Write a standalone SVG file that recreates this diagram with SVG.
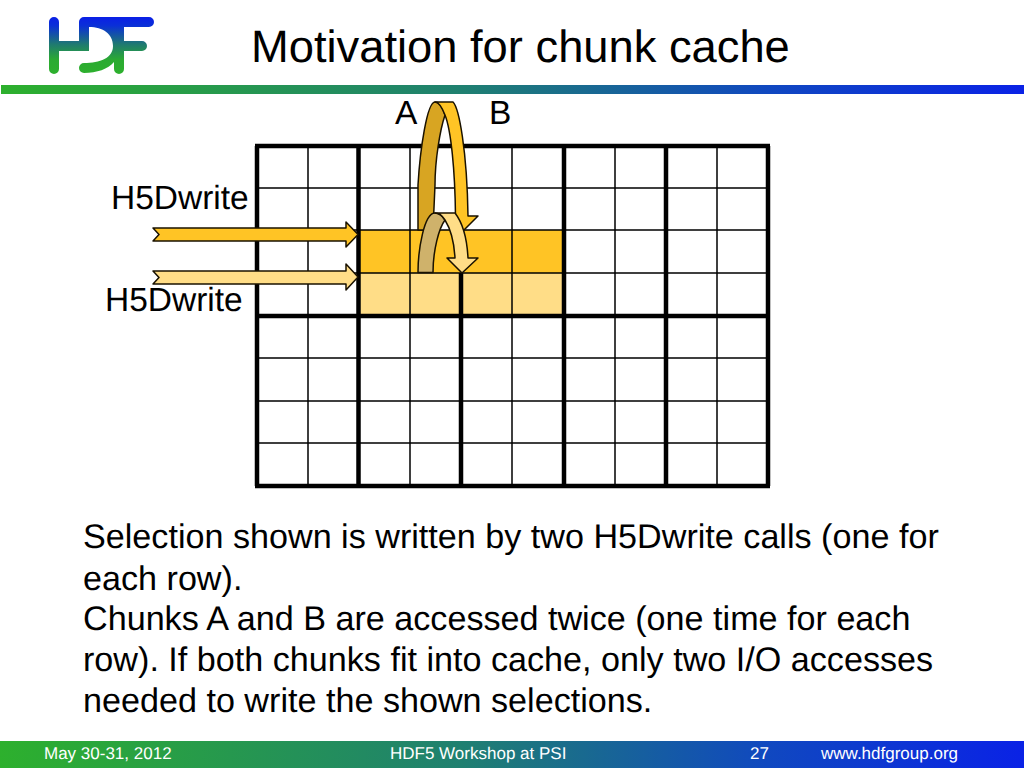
<svg xmlns="http://www.w3.org/2000/svg" width="1024" height="768" viewBox="0 0 1024 768">
<style>
text{font-family:"Liberation Sans",Arial,sans-serif;fill:#000;text-rendering:geometricPrecision}
.title{font-size:45.300px}
.body{font-size:34.150px}
.lab{font-size:33.500px}
.foot{font-size:17px;fill:#fff}
.thick{stroke:#000;stroke-width:4.500;fill:none}
.thin{stroke:#000;stroke-width:1.500;fill:none}
.ol{stroke:#1a1200;stroke-width:1.500;stroke-linejoin:round}
</style>
<defs>
<linearGradient id="bar" x1="0" x2="1" y1="0" y2="0"><stop offset="0" stop-color="#2DB02D"/><stop offset=".45" stop-color="#1F8070"/><stop offset=".75" stop-color="#1048C0"/><stop offset="1" stop-color="#0A22E6"/></linearGradient>
<linearGradient id="lg" gradientUnits="userSpaceOnUse" x1="0" x2="0" y1="17" y2="74"><stop offset="0" stop-color="#0A1FE6"/><stop offset=".15" stop-color="#0A2FD8"/><stop offset=".48" stop-color="#1F7A70"/><stop offset=".75" stop-color="#2BAA32"/><stop offset="1" stop-color="#2DB02D"/></linearGradient>
</defs>
<rect width="1024" height="768" fill="#fff"/>
<g id="logo" fill="url(#lg)">
<path d="M49,22a5,5 0 0 1 10,0V41H79V22a5,5 0 0 1 5,-5H149a5,5 0 0 1 0,10H124V41H142a5,5 0 0 1 0,10H124V69a5,5 0 0 1 -10,0V62C108,69 97,73 84,73a5,5 0 0 1 0,-10C100,63 113,58 113,46C113,34 103,27 89,27V51H59V69a5,5 0 0 1 -10,0Z"/>
</g>
<rect id="top-bar" x="1" y="85" width="1023" height="9" fill="url(#bar)"/>
<text class="title" x="251" y="62">Motivation for chunk cache</text>
<g id="selection">
<rect x="360" y="230" width="203" height="43" fill="#FFC425"/>
<rect x="360" y="273" width="203" height="42" fill="#FFDD87"/>
</g>
<g id="grid">
<path class="thin" d="M308,146V486M410,146V486M512,146V486M615,146V486M717,146V486M257,188H768M257,230H768M257,273H768M257,358H768M257,401H768M257,443H768"/>
<path class="thick" d="M257,146V486M358.500,146V486M461,146V230M461,273V486M564,146V486M666,146V486M768,146V486M255,146H770M255,316H770M255,486H770"/>
</g>
<g id="connectors">
<path id="big-back" class="ol" fill="#D8A522" d="M418,230V185C420,150 427,102 435,102C438,102 441,103 445,115C440,130 435,160 435,185L433,230Z"/>
<path id="big-front" class="ol" fill="#FFC425" d="M435,102H453C459,108 467,150 468,216H478L463,231L448,216H455.500C455,170 451,130 445,115C441,105 438,102 435,102Z"/>
<path id="small-back" class="ol" fill="#CFB26B" d="M418,272.500C418,250 424,213 435,213C438,213 442,215 445,220C439,228 433,250 433,272.500Z"/>
<path id="small-front" class="ol" fill="#FFDD87" d="M435,213H455C462,222 467,238 468,258H478L462,273L447,258H455C454,240 450,228 445,220C442,215 438,213 435,213Z"/>
<path id="write-1" class="ol" fill="#FFC425" d="M153,228H346V222L358,234.500L346,247V241H153L159,234.500Z"/>
<path id="write-2" class="ol" fill="#FFDD87" d="M153,271H346V264L358,277L346,290V284H153L159,277.500Z"/>
</g>
<g id="labels">
<text class="lab" x="395" y="124">A</text>
<text class="lab" x="489" y="124">B</text>
<text class="lab" x="111" y="209">H5Dwrite</text>
<text class="lab" x="105" y="311">H5Dwrite</text>
</g>
<g id="description">
<text class="body" x="83" y="548">Selection shown is written by two H5Dwrite calls (one for</text>
<text class="body" x="83" y="590">each row).</text>
<text class="body" x="83" y="630">Chunks A and B are accessed twice (one time for each</text>
<text class="body" x="83" y="671">row). If both chunks fit into cache, only two I/O accesses</text>
<text class="body" x="83" y="712">needed to write the shown selections.</text>
</g>
<rect id="footer-bar" x="0" y="741" width="1024" height="27" fill="url(#bar)"/>
<g id="footer">
<text class="foot" x="44" y="759">May 30-31, 2012</text>
<text class="foot" x="390" y="759">HDF5 Workshop at PSI</text>
<text class="foot" x="750" y="759">27</text>
<text class="foot" x="821" y="759">www.hdfgroup.org</text>
</g>
</svg>
